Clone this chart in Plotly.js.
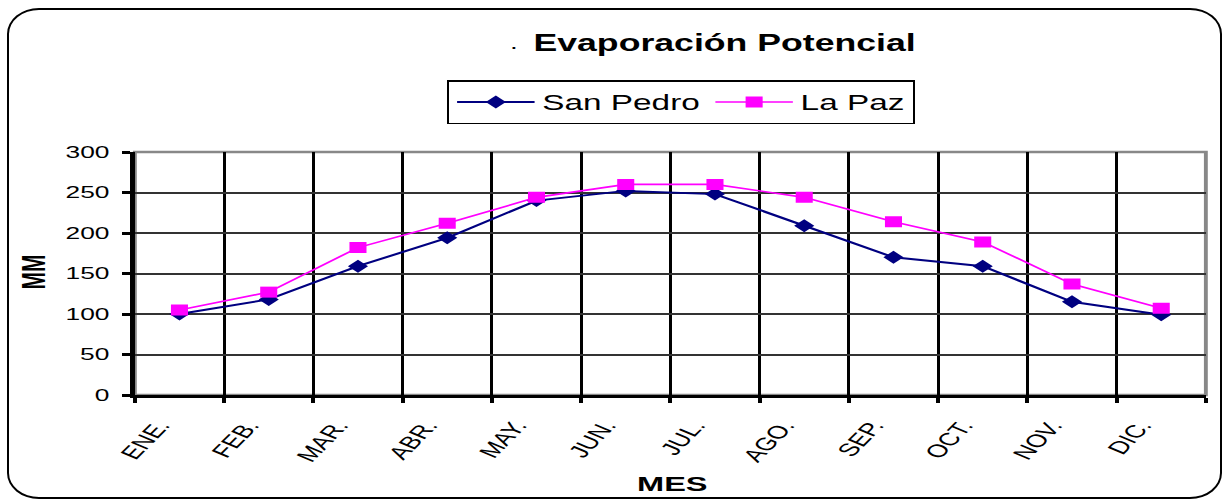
<!DOCTYPE html>
<html>
<head>
<meta charset="utf-8">
<script src="https://cdn.plot.ly/plotly-3.0.1.min.js"></script>
<style>
  html, body { margin: 0; padding: 0; background: #fff; }
  #wrap { position: relative; width: 1226px; height: 504px; overflow: hidden; background: #fff; }
  #chart { position: absolute; left: 0; top: 0; width: 791px; height: 504px; transform: scaleX(1.54994); transform-origin: 0 0; }
  #frame { position: absolute; left: 7px; top: 8px; width: 1215px; height: 491px; border: 2px solid #000; border-radius: 32px / 26px; box-sizing: border-box; pointer-events: none; }
</style>
</head>
<body>
<div id="wrap">
  <div id="chart"></div>
  <div id="frame"></div>
</div>
<script>
// ---- Data ----
const months = ['ENE.', 'FEB.', 'MAR.', 'ABR.', 'MAY.', 'JUN.', 'JUL.', 'AGO.', 'SEP.', 'OCT.', 'NOV.', 'DIC.'];
const sanPedro = [100, 118, 159, 194, 240, 252, 248, 209, 170, 159, 115, 99];
const laPaz = [105, 127, 182, 212, 244, 260, 260, 244, 214, 189, 137, 107];
const yTicks = [0, 50, 100, 150, 200, 250, 300];
const seriesNames = ['San Pedro', 'La Paz'];
const chartTitle = 'Evaporación Potencial';
const xTitle = 'MES';
const yTitle = 'MM';

const FONT = 'Arial, "Liberation Sans", sans-serif';

const traces = [
  {
    x: months, y: sanPedro, name: seriesNames[0], type: 'scatter', mode: 'lines+markers',
    line: { color: '#000080', width: 2 },
    marker: { symbol: 'diamond', size: 10, color: '#000080' }
  },
  {
    x: months, y: laPaz, name: seriesNames[1], type: 'scatter', mode: 'lines+markers',
    line: { color: '#FF00FF', width: 1.6 },
    marker: { symbol: 'square', size: 11, color: '#FF00FF' }
  }
];

const layout = {
  width: 791, height: 504,
  margin: { l: 87, r: 13, t: 152, b: 109 },
  paper_bgcolor: '#fff', plot_bgcolor: '#fff',
  font: { family: FONT, color: '#000' },
  title: {
    text: chartTitle,
    font: { family: FONT, size: 23, weight: 'bold', color: '#000' },
    xref: 'container', x: 0.591, xanchor: 'center',
    yref: 'container', y: 1 - 43 / 504, yanchor: 'middle'
  },
  showlegend: true,
  legend: {
    orientation: 'h', x: 0.51, xanchor: 'center', y: 1.296, yanchor: 'top',
    bordercolor: '#000', borderwidth: 1.5, bgcolor: '#fff',
    font: { family: FONT, size: 21.5, color: '#000' },
    itemwidth: 50
  },
  xaxis: {
    type: 'category', tickson: 'boundaries',
    range: [-0.5, months.length - 0.5], autorange: false,
    showgrid: true, gridcolor: '#000', gridwidth: 2,
    ticks: 'outside', ticklen: 5, tickwidth: 2.5, tickcolor: '#000',
    showline: true, linecolor: '#000', linewidth: 3,
    tickangle: -57, ticklabelshift: -13, ticklabelstandoff: 10,
    tickfont: { family: FONT, size: 18, color: '#000' },
    fixedrange: true
  },
  yaxis: {
    range: [0, 300], autorange: false, tickvals: yTicks,
    showgrid: true, gridcolor: '#333', gridwidth: 2,
    ticks: 'outside', ticklen: 5, tickwidth: 3, tickcolor: '#000',
    showline: true, linecolor: '#000', linewidth: 3,
    zeroline: false, ticklabelstandoff: 5,
    tickfont: { family: FONT, size: 17, color: '#000' },
    fixedrange: true
  },
  shapes: [
    { type: 'rect', xref: 'paper', yref: 'paper', x0: 0, x1: 1, y0: 0, y1: 1,
      line: { color: '#888', width: 2.5 }, layer: 'between' }
  ],
  annotations: [
    { text: '.', xref: 'paper', yref: 'paper', x: 0.3544, y: 1.399, xanchor: 'center', yanchor: 'bottom',
      showarrow: false, font: { family: FONT, size: 18, color: '#000' } },
    { text: yTitle, xref: 'paper', yref: 'paper', x: -0.095, y: 0.506, xanchor: 'center', yanchor: 'middle',
      textangle: -90, showarrow: false, font: { family: FONT, size: 21, weight: 'bold', color: '#000' } },
    { text: xTitle, xref: 'paper', yref: 'paper', x: 0.5015, y: -0.366, xanchor: 'center', yanchor: 'middle',
      showarrow: false, font: { family: FONT, size: 21, weight: 'bold', color: '#000' } }
  ]
};

Plotly.newPlot('chart', traces, layout, { displayModeBar: false, staticPlot: true });
</script>
</body>
</html>
